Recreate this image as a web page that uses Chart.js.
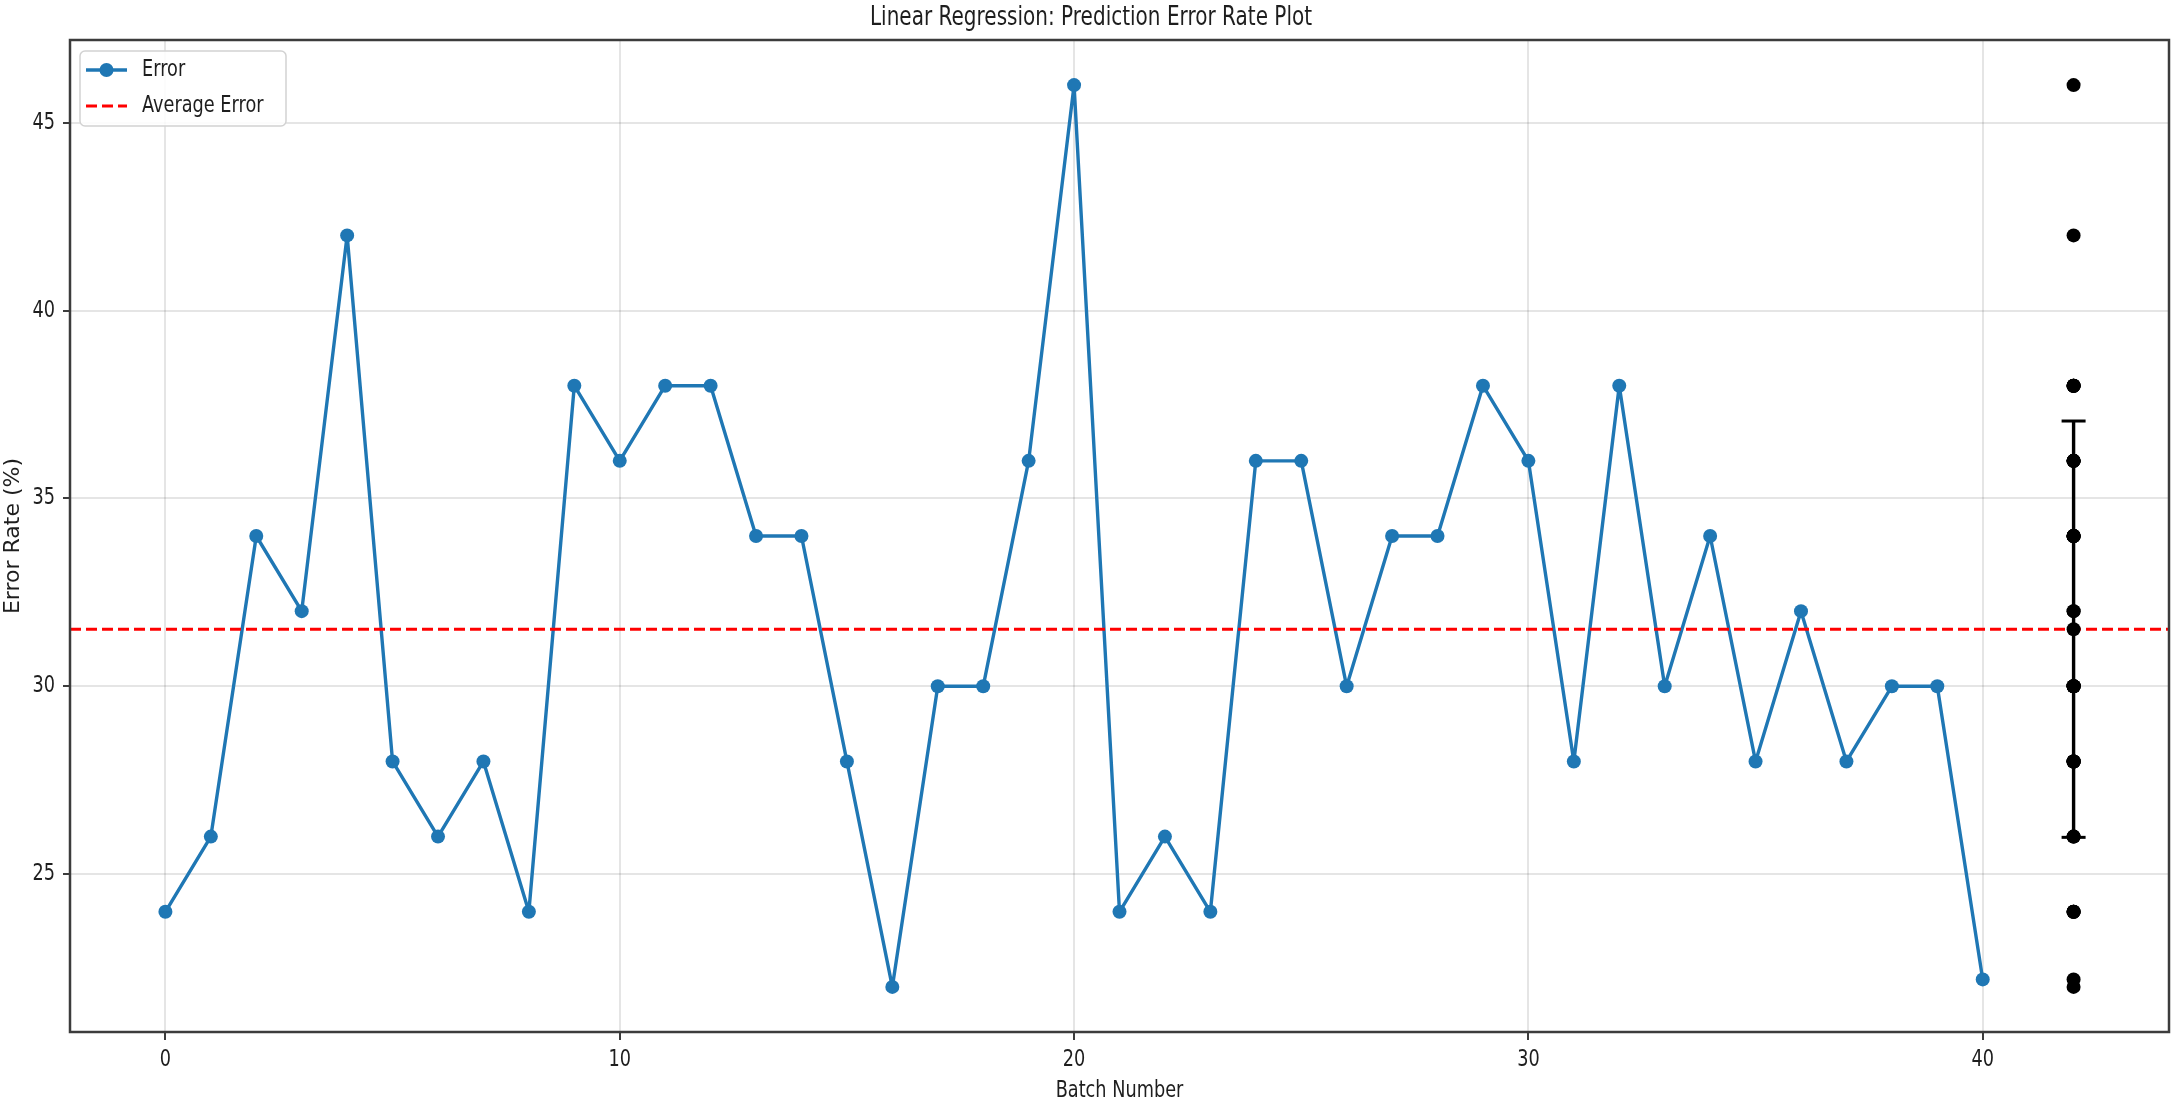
<!DOCTYPE html>
<html>
<head>
<meta charset="utf-8">
<script src="https://cdn.jsdelivr.net/npm/chart.js@4.4.1/dist/chart.umd.min.js"></script>
<style>
  html, body { margin: 0; padding: 0; background: #ffffff; }
  #c { display: block; }
</style>
</head>
<body>
<canvas id="c" width="2184" height="1105"></canvas>
<script>
// ---------------- data ----------------
const batchNumbers = [0,1,2,3,4,5,6,7,8,9,10,11,12,13,14,15,16,17,18,19,20,
                      21,22,23,24,25,26,27,28,29,30,31,32,33,34,35,36,37,38,39,40];
const errorRates   = [24,26,34,32,42,28,26,28,24,38,36,38,38,34,34,28,22,30,30,36,46,
                      24,26,24,36,36,30,34,34,38,36,28,38,30,34,28,32,28,30,30,22.2];
const averageError = 31.52;
const errorStd = 5.54;
const summaryX = 42;
const xTickValues = [0, 10, 20, 30, 40];
const yTickValues = [25, 30, 35, 40, 45];
const xLimits = [-2.1, 44.1];
const yLimits = [20.8, 47.2];
const titleText = 'Linear Regression: Prediction Error Rate Plot';
const xAxisLabel = 'Batch Number';
const yAxisLabel = 'Error Rate (%)';
const seriesLabels = ['Error', 'Average Error'];

// ------------- text rendering: horizontally narrow glyphs like the reference -------------
const SX = 0.77;
const origFillText = CanvasRenderingContext2D.prototype.fillText;
CanvasRenderingContext2D.prototype.fillText = function (text, x, y, maxWidth) {
  const t = this.getTransform();
  if (Math.abs(t.b) > 1e-6 || Math.abs(t.c) > 1e-6) {
    return maxWidth === undefined ? origFillText.call(this, text, x, y)
                                  : origFillText.call(this, text, x, y, maxWidth);
  }
  this.save();
  this.translate(x, y);
  this.scale(SX, 1);
  if (maxWidth === undefined) origFillText.call(this, text, 0, 0);
  else origFillText.call(this, text, 0, 0, maxWidth / SX);
  this.restore();
};

const FONT = "'DejaVu Sans', sans-serif";
const TEXT_COLOR = '#1e1e1e';
const BLUE = '#1f77b4';

// ------------- plugins -------------
const framePlugin = {
  id: 'frame',
  afterDatasetsDraw(chart) {
    const { ctx, chartArea: a } = chart;
    ctx.save();
    ctx.strokeStyle = '#3c3c3c';
    ctx.lineWidth = 2.5;
    ctx.strokeRect(a.left, a.top, a.right - a.left, a.bottom - a.top);
    ctx.restore();
  }
};

const legendPlugin = {
  id: 'mplLegend',
  afterDraw(chart) {
    const { ctx, chartArea: a } = chart;
    const ds = chart.data.datasets;
    const x0 = a.left + 10, y0 = a.top + 11, w = 206, h = 75, r = 5;
    ctx.save();
    ctx.fillStyle = 'rgba(255,255,255,0.85)';
    ctx.strokeStyle = '#d2d2d2';
    ctx.lineWidth = 1.5;
    ctx.beginPath();
    ctx.roundRect(x0, y0, w, h, r);
    ctx.fill();
    ctx.stroke();
    const hx0 = x0 + 6, hx1 = x0 + 47, tx = x0 + 62;
    const rows = [y0 + 19, y0 + 55];
    // Error handle
    ctx.strokeStyle = ds[0].borderColor;
    ctx.lineWidth = 3.4;
    ctx.setLineDash([]);
    ctx.beginPath(); ctx.moveTo(hx0, rows[0]); ctx.lineTo(hx1, rows[0]); ctx.stroke();
    ctx.fillStyle = ds[0].borderColor;
    ctx.beginPath(); ctx.arc((hx0 + hx1) / 2, rows[0], 7, 0, Math.PI * 2); ctx.fill();
    // Average handle
    ctx.strokeStyle = ds[1].borderColor;
    ctx.lineWidth = 3;
    ctx.setLineDash([11, 5]);
    ctx.beginPath(); ctx.moveTo(hx0, rows[1]); ctx.lineTo(hx1, rows[1]); ctx.stroke();
    ctx.setLineDash([]);
    ctx.fillStyle = TEXT_COLOR;
    ctx.font = "23px " + FONT;
    ctx.textAlign = 'left';
    ctx.textBaseline = 'middle';
    ctx.fillText(ds[0].label, tx, rows[0]);
    ctx.fillText(ds[1].label, tx, rows[1]);
    ctx.restore();
  }
};

// ------------- datasets -------------
const errorPoints = batchNumbers.map((b, i) => ({ x: b, y: errorRates[i] }));
const averagePoints = [{ x: xLimits[0], y: averageError }, { x: xLimits[1], y: averageError }];
const summaryPoints = errorRates.map(v => ({ x: summaryX, y: v }));
const errorBarPoints = [{ x: summaryX, y: averageError - errorStd }, { x: summaryX, y: averageError + errorStd }];
const meanPoint = [{ x: summaryX, y: averageError }];

const chart = new Chart(document.getElementById('c'), {
  type: 'line',
  data: {
    datasets: [
      {
        label: seriesLabels[0], data: errorPoints, order: 5,
        borderColor: BLUE, backgroundColor: BLUE, borderWidth: 3.4,
        borderJoinStyle: 'round', borderCapStyle: 'round',
        pointRadius: 7, pointBackgroundColor: BLUE, pointBorderWidth: 0, tension: 0
      },
      {
        label: seriesLabels[1], data: averagePoints, order: 4,
        borderColor: '#ff0000', borderWidth: 3, borderDash: [11, 5],
        pointRadius: 0, tension: 0
      },
      {
        label: 'std', data: errorBarPoints, order: 3,
        borderColor: '#000000', borderWidth: 3.4,
        pointStyle: 'line', pointRadius: 12, pointBorderWidth: 3, pointBorderColor: '#000000'
      },
      {
        label: 'values', data: summaryPoints, order: 2, showLine: false,
        pointRadius: 7, pointBackgroundColor: '#000000', pointBorderWidth: 0, borderColor: '#000000'
      },
      {
        label: 'mean', data: meanPoint, order: 1, showLine: false,
        pointRadius: 7, pointBackgroundColor: '#000000', pointBorderWidth: 0, borderColor: '#000000'
      }
    ]
  },
  options: {
    responsive: false,
    animation: false,
    devicePixelRatio: 1,
    layout: { padding: { left: 0, right: 2, top: 0, bottom: 0 } },
    plugins: {
      legend: { display: false },
      tooltip: { enabled: false },
      title: {
        display: true, text: titleText, color: TEXT_COLOR,
        font: { family: FONT, size: 26, weight: 'normal', lineHeight: 1.2 },
        padding: { top: 2.5, bottom: 6.3 }
      }
    },
    scales: {
      x: {
        type: 'linear', min: xLimits[0], max: xLimits[1],
        afterBuildTicks: s => { s.ticks = xTickValues.map(v => ({ value: v })); },
        afterFit: s => { s.height = 73; },
        border: { display: false },
        grid: { color: 'rgba(0,0,0,0.1)', lineWidth: 2, drawTicks: true, tickLength: 8,
                tickColor: '#3c3c3c', tickWidth: 2 },
        ticks: { color: TEXT_COLOR, font: { family: FONT, size: 23 }, padding: 6,
                 maxRotation: 0, autoSkip: false, callback: v => String(v) },
        title: { display: true, text: xAxisLabel, color: TEXT_COLOR,
                 font: { family: FONT, size: 23, lineHeight: 1.2 }, padding: { top: 0, bottom: 0 } }
      },
      y: {
        type: 'linear', min: yLimits[0], max: yLimits[1],
        afterBuildTicks: s => { s.ticks = yTickValues.map(v => ({ value: v })); },
        afterFit: s => { s.width = 70; },
        border: { display: false },
        grid: { color: 'rgba(0,0,0,0.1)', lineWidth: 2, drawTicks: true, tickLength: 7,
                tickColor: '#3c3c3c', tickWidth: 2 },
        ticks: { color: TEXT_COLOR, font: { family: FONT, size: 23 }, padding: 8,
                 autoSkip: false, callback: v => String(v) },
        title: { display: true, text: yAxisLabel, color: TEXT_COLOR,
                 font: { family: FONT, size: 22, lineHeight: 1.2 }, padding: { top: 0, bottom: 0 } }
      }
    }
  },
  plugins: [framePlugin, legendPlugin]
});
</script>
</body>
</html>
